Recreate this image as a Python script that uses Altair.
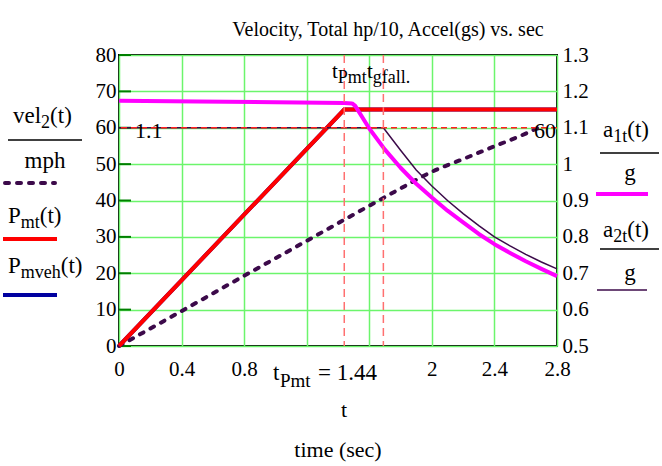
import altair as alt
import pandas as pd

# ---------------- data ----------------
t_vel = [0, 0.4, 0.8, 1.2, 1.44, 1.69, 1.8, 2.0, 2.2, 2.4, 2.6, 2.68]
vel = [0, 9.6, 19.3, 28.9, 34.7, 40.7, 43.3, 47.9, 51.4, 54.9, 58.4, 60.0]

t_pmt = [0, 1.44, 2.8]
pmt = [0, 65, 65]

t_a1 = [0, 0.5, 1.0, 1.44, 1.49, 1.51, 1.6, 1.7, 1.8, 1.9, 2.0, 2.1, 2.2, 2.3, 2.4, 2.5, 2.6, 2.7, 2.8]
a1 = [1.174, 1.172, 1.170, 1.168, 1.167, 1.160, 1.098, 1.040, 0.990, 0.946, 0.908, 0.872, 0.840, 0.808, 0.780, 0.756, 0.733, 0.712, 0.692]

t_a2 = [0, 1.69, 1.8, 1.9, 2.0, 2.1, 2.2, 2.3, 2.4, 2.5, 2.6, 2.7, 2.8]
a2 = [1.1, 1.1, 1.038, 0.984, 0.940, 0.900, 0.864, 0.831, 0.800, 0.775, 0.752, 0.731, 0.712]

x_ticks = [0, 0.4, 0.8, 1.2, 1.6, 2.0, 2.4, 2.8]
y_left_ticks = [0, 10, 20, 30, 40, 50, 60, 70, 80]
y_right_ticks = [0.5, 0.6, 0.7, 0.8, 0.9, 1.0, 1.1, 1.2, 1.3]
t_markers = [1.44, 1.69]
left_marker = 60
right_marker = 1.1

FONT = "Liberation Serif, Times New Roman, serif"
GRID = "#6cf56c"
TK = 21  # tick label size
VEL_C = "#3c0a4a"

df_vel = pd.DataFrame({"t": t_vel, "v": vel})
df_pmt = pd.DataFrame({"t": t_pmt, "v": pmt})
df_a1 = pd.DataFrame({"t": t_a1, "a": a1})
df_a2 = pd.DataFrame({"t": t_a2, "a": a2})
df_lt = pd.DataFrame({"v": y_left_ticks})
df_tm = pd.DataFrame({"t": t_markers})
df_rm = pd.DataFrame({"a": [right_marker]})

X = alt.X(
    "t:Q",
    scale=alt.Scale(domain=[0, 2.8], nice=False, zero=False),
    axis=alt.Axis(
        values=x_ticks, title=None, grid=True, gridColor=GRID, gridWidth=1.5,
        domain=False, ticks=False, labelFont=FONT, labelFontSize=TK,
        labelColor="black", labelPadding=12, labelOverlap=False,
        labelFlush=False, labelBound=False,
        labelExpr="(abs(datum.value-1.2)<0.01 || abs(datum.value-1.6)<0.01) ? '' : format(datum.value, '~g')",
    ),
)

YL = alt.Y(
    "v:Q",
    scale=alt.Scale(domain=[0, 80], nice=False, zero=False),
    axis=alt.Axis(
        values=y_left_ticks, title=None, grid=True, gridColor=GRID, gridWidth=1.5,
        domain=False, ticks=False, labelFont=FONT, labelFontSize=TK,
        labelColor="black", labelPadding=3, labelOverlap=False,
        labelFlush=False, labelBound=False, orient="left",
    ),
)

YR = alt.Y(
    "a:Q",
    scale=alt.Scale(domain=[0.5, 1.3], nice=False, zero=False),
    axis=alt.Axis(
        values=y_right_ticks, title=None, grid=False,
        domain=False, ticks=False, labelFont=FONT, labelFontSize=TK,
        labelColor="black", labelPadding=5, labelOverlap=False,
        labelFlush=False, labelBound=False, orient="right",
        labelExpr="format(datum.value, '~g')",
    ),
)

# ---------------- left-scale group ----------------
inner_ticks = alt.Chart(df_lt).mark_rule(color="#008000", strokeWidth=2).encode(
    y=YL, x=alt.value(0), x2=alt.value(12)
)
vel_line = alt.Chart(df_vel).mark_line(
    color=VEL_C, strokeWidth=4, strokeDash=[4, 8], strokeCap="round", interpolate="monotone"
).encode(x=X, y=YL)
pmveh_line = alt.Chart(df_pmt).mark_line(color="#0000a0", strokeWidth=4).encode(x=X, y=YL)
pmt_line = alt.Chart(df_pmt).mark_line(color="#ff0000", strokeWidth=4).encode(x=X, y=YL)

left = alt.layer(inner_ticks, vel_line, pmveh_line, pmt_line)

# ---------------- right-scale group ----------------
a2_line = alt.Chart(df_a2).mark_line(color=VEL_C, strokeWidth=1.5).encode(x=X, y=YR)
a1_line = alt.Chart(df_a1).mark_line(color="#ff00ff", strokeWidth=4, strokeJoin="round").encode(x=X, y=YR)
hmark = alt.Chart(df_rm).mark_rule(color="#ff2020", strokeWidth=1.5, strokeDash=[6, 4]).encode(y=YR)
vmark = alt.Chart(df_tm).mark_rule(color="#ff7070", strokeWidth=1.5, strokeDash=[8, 5]).encode(x=X)

right = alt.layer(a2_line, a1_line, hmark, vmark)

# ---------------- text helpers ----------------
W = {"v": .5, "e": .444, "l": .278, "2": .5, "(": .333, "t": .278, ")": .333,
     "P": .556, "m": .778, "h": .5, "a": .444, "1": .5, "g": .5, "f": .333,
     ".": .25, "=": .564, " ": .25, "4": .5}


def width(s, size):
    return sum(W.get(c, .5) for c in s) * size


def txt(s, x, y, size, align="left"):
    return alt.Chart(pd.DataFrame({"s": [s]})).mark_text(
        font=FONT, fontSize=size, align=align, baseline="alphabetic", color="black"
    ).encode(text="s:N", x=alt.value(x), y=alt.value(y))


def runs(parts, x0, y0, align="left"):
    total = sum(width(p[0], p[1]) for p in parts)
    if align == "center":
        x0 = x0 - total / 2
    out = []
    x = x0
    for text, size, dy in parts:
        out.append(txt(text, x, y0 + dy, size))
        x += width(text, size)
    return out


def bar(x1, x2, y, color="black", sw=1.5, dash=None, cap="butt"):
    kw = dict(color=color, strokeWidth=sw, strokeCap=cap)
    if dash:
        kw["strokeDash"] = dash
    return alt.Chart(pd.DataFrame({"d": [0]})).mark_rule(**kw).encode(
        x=alt.value(x1), x2=alt.value(x2), y=alt.value(y), y2=alt.value(y)
    )


M, S = 23, 18
texts = []
# title
texts.append(txt("Velocity, Total hp/10, Accel(gs) vs. sec", 269, -19, 20, "center"))
# left legend
texts += runs([("vel", M, 0), ("2", S, 5), ("(t)", M, 0)], -106, 68)
texts.append(bar(-111, -37, 85))
texts += runs([("mph", M, 0)], -74, 113, "center")
texts.append(bar(-114, -64, 128, VEL_C, 4, [4, 8], "round"))
texts += runs([("P", M, 0), ("mt", S, 5), ("(t)", M, 0)], -111, 168)
texts.append(bar(-116, -62, 184, "#ff0000", 4))
texts += runs([("P", M, 0), ("mveh", S, 5), ("(t)", M, 0)], -111, 218)
texts.append(bar(-116, -62, 240, "#0000a0", 4))
# right legend
texts += runs([("a", M, 0), ("1t", S, 5), ("(t)", M, 0)], 484, 82)
texts.append(bar(481, 540, 98))
texts += runs([("g", M, 0)], 511, 125, "center")
texts.append(bar(477, 529, 139, "#ff00ff", 4))
texts += runs([("a", M, 0), ("2t", S, 5), ("(t)", M, 0)], 484, 182)
texts.append(bar(481, 540, 194))
texts += runs([("g", M, 0)], 511, 225, "center")
texts.append(bar(478, 528, 235, VEL_C, 1.5))
# marker labels
texts.append(txt("1.1", 16, 83, 22))
texts.append(txt("60", 437, 83, 22, "right"))
texts += runs([("t", 21, 0), ("Pmt", 18, 5)], 213, 23)
texts += runs([("t", 21, 0), ("gfall.", 18, 5)], 248, 23)
texts.append(txt("t", 154, 325, 23))
texts.append(txt("Pmt", 161, 332, 19))
texts.append(txt("= 1.44", 199, 325, 23))
# axis titles
texts.append(txt("t", 225, 362, 22, "center"))
texts.append(txt("time (sec)", 219, 402, 22, "center"))

chart = alt.layer(left, right, *texts).resolve_scale(y="independent").properties(
    width=438, height=291,
    autosize=alt.AutoSizeParams(type="none"),
    padding={"left": 119, "top": 55, "right": 105, "bottom": 120},
    background="white",
).configure_view(stroke="black", strokeWidth=2)

chart.save("out.html", embed_options={"renderer": "svg", "actions": False})
